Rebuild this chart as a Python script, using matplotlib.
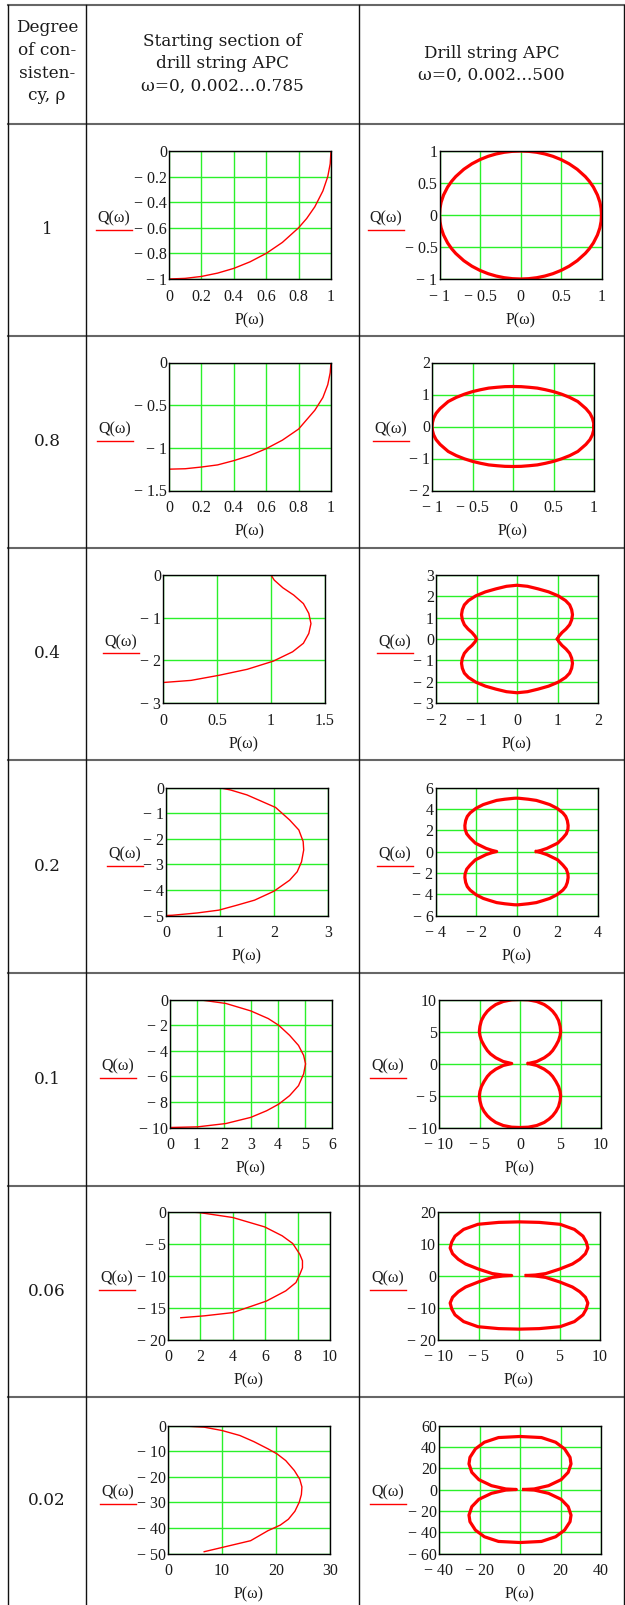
import numpy as np
import matplotlib.pyplot as plt
from matplotlib.lines import Line2D

plt.rcParams['font.family'] = ['Liberation Serif', 'DejaVu Serif']

# ---- data ----
rho_labels = ["1", "0.8", "0.4", "0.2", "0.1", "0.06", "0.02"]

# starting section (left column): P, Q pairs, from Q=0 end towards P=0 end
p_1 = [1.0, 0.995, 0.98, 0.95, 0.9, 0.85, 0.8, 0.7, 0.6, 0.5, 0.4, 0.3, 0.2, 0.1, 0.0]
q_1 = [0.0, -0.1, -0.2, -0.312, -0.436, -0.527, -0.6, -0.714, -0.8, -0.866, -0.917, -0.954, -0.98, -0.995, -1.0]

p_08 = [1.0, 0.995, 0.98, 0.95, 0.9, 0.8, 0.7, 0.6, 0.5, 0.4, 0.3, 0.2, 0.1, 0.0]
q_08 = [0.0, -0.12, -0.26, -0.41, -0.56, -0.78, -0.91, -1.01, -1.09, -1.15, -1.2, -1.225, -1.245, -1.25]

p_04 = [1.0, 1.03, 1.11, 1.21, 1.30, 1.35, 1.37, 1.35, 1.30, 1.2, 1.02, 0.78, 0.52, 0.26, 0.0]
q_04 = [0.0, -0.12, -0.3, -0.47, -0.67, -0.9, -1.14, -1.37, -1.6, -1.8, -2.02, -2.21, -2.35, -2.47, -2.52]

p_02 = [0.98, 1.2, 1.5, 2.03, 2.29, 2.46, 2.54, 2.55, 2.51, 2.43, 2.29, 2.0, 1.64, 1.31, 0.98, 0.58, 0.12, 0.0]
q_02 = [0.0, -0.1, -0.29, -0.78, -1.27, -1.66, -2.11, -2.44, -2.9, -3.29, -3.62, -4.05, -4.4, -4.6, -4.79, -4.9, -4.99, -5.0]

p_01 = [1.02, 2.07, 2.99, 3.64, 4.03, 4.43, 4.76, 4.95, 5.02, 4.95, 4.76, 4.43, 4.03, 3.58, 2.99, 2.07, 1.02, 0.0]
q_01 = [0.0, -0.31, -0.89, -1.49, -2.02, -2.8, -3.59, -4.37, -5.03, -5.81, -6.73, -7.51, -8.17, -8.69, -9.21, -9.69, -9.95, -10.0]

p_006 = [0.72, 1.92, 4.0, 5.96, 7.05, 7.7, 8.14, 8.3, 8.3, 8.14, 7.9, 7.27, 6.07, 4.0, 2.25, 0.79]
q_006 = [0.0, -0.16, -0.94, -2.4, -3.8, -5.0, -6.7, -7.7, -8.8, -9.8, -11.1, -12.4, -14.0, -15.8, -16.3, -16.6]

p_002 = [0.85, 3.5, 6.7, 10.0, 13.3, 15.9, 18.5, 20.2, 21.8, 23.4, 24.4, 24.8, 24.7, 24.3, 23.5, 22.3, 20.8, 18.5, 15.3, 10.7, 6.7]
q_002 = [0.0, -0.26, -0.65, -1.96, -3.9, -6.3, -9.1, -11.1, -13.7, -17.6, -21.0, -24.0, -27.0, -30.0, -33.5, -36.6, -38.9, -41.1, -45.0, -47.3, -49.3]

# full APC (right column): one quarter, mirrored into the closed curve
rp_006 = [0.9, 2.0, 3.3, 5.0, 6.6, 7.5, 8.2, 8.5, 8.3, 7.9, 6.84, 5.07, 2.5, 0.0]
rq_006 = [0.0, -0.15, -0.6, -2.0, -3.6, -5.07, -6.8, -8.6, -10.5, -12.3, -14.4, -16.0, -16.6, -16.76]

rp_002 = [1.8, 7.0, 14.1, 20.3, 23.8, 25.2, 24.7, 22.0, 17.6, 10.6, 0.0]
rq_002 = [0.0, -0.5, -3.6, -9.2, -16.1, -24.0, -30.2, -38.1, -44.3, -48.7, -49.7]

left_data = [(p_1, q_1), (p_08, q_08), (p_04, q_04), (p_02, q_02),
             (p_01, q_01), (p_006, q_006), (p_002, q_002)]
right_data = [(p_1, q_1), (p_08, q_08), (p_04, q_04), (p_02, q_02),
              (p_01, q_01), (rp_006, rq_006), (rp_002, rq_002)]

# axis limits and tick steps
left_x = [(0, 1, 0.2), (0, 1, 0.2), (0, 1.5, 0.5), (0, 3, 1), (0, 6, 1), (0, 10, 2), (0, 30, 10)]
left_y = [(-1, 0, 0.2), (-1.5, 0, 0.5), (-3, 0, 1), (-5, 0, 1), (-10, 0, 2), (-20, 0, 5), (-50, 0, 10)]
right_x = [(-1, 1, 0.5), (-1, 1, 0.5), (-2, 2, 1), (-4, 4, 2), (-10, 10, 5), (-10, 10, 5), (-40, 40, 20)]
right_y = [(-1, 1, 0.5), (-2, 2, 1), (-3, 3, 1), (-6, 6, 2), (-10, 10, 5), (-20, 20, 10), (-60, 60, 20)]

# ---- layout (pixels from top-left) ----
W, H = 625, 1605
row_lines = [124, 336, 548, 760, 972.5, 1185.5, 1396.5]
col_lines = [8, 86, 359, 624]
ax_tops = [151, 362.5, 575, 787.5, 999.5, 1211.5, 1425.5]
left_x0 = [169, 169, 163, 166, 170, 168, 168]
right_x0 = [439.5, 432, 436, 435.5, 439, 438, 439]
left_qx = [114, 115, 121, 125, 118, 117, 118]
right_qx = [386, 391, 395, 395, 388, 388, 388]
AW, AH = 162, 128
FS = 11.5

GREEN = '#2af02a'
RED = '#ff0000'
INK = '#1a1a1a'


def fx(x):
    return x / W


def fy(y):
    return 1 - y / H


def tick_text(v):
    s = f"{abs(v):g}"
    return s if v >= 0 else "\u2212 " + s


def closed_curve(p, q):
    p = np.asarray(p)
    q = np.asarray(q)
    px = np.concatenate([p, -p[::-1], -p, p[::-1]])
    qy = np.concatenate([q, q[::-1], -q, -q[::-1]])
    return px, qy


def make_axes(x0, top, xr, yr, qx):
    ax = fig.add_axes([fx(x0), fy(top + AH), AW / W, AH / H])
    xt = np.arange(xr[0], xr[1] + xr[2] / 2, xr[2])
    yt = np.arange(yr[0], yr[1] + yr[2] / 2, yr[2])
    ax.set_xlim(xr[0], xr[1])
    ax.set_ylim(yr[0], yr[1])
    ax.set_xticks(xt)
    ax.set_yticks(yt)
    ax.set_xticklabels([tick_text(round(v, 3)) for v in xt])
    ax.set_yticklabels([tick_text(round(v, 3)) for v in yt])
    ax.tick_params(length=0, labelsize=FS, colors=INK)
    ax.tick_params(axis='x', pad=7)
    ax.tick_params(axis='y', pad=1.5)
    ax.grid(True, color=GREEN, lw=1.0)
    for sp in ax.spines.values():
        sp.set_color('black')
        sp.set_linewidth(1.0)
    mid = top + AH / 2
    fig.text(fx(qx), fy(mid + 3), "Q(\u03c9)", ha='center', va='center',
             fontsize=FS, color=INK)
    fig.add_artist(Line2D([fx(qx - 18), fx(qx + 18)], [fy(mid + 14.5)] * 2,
                          color=RED, lw=1.0))
    fig.text(fx(x0 + AW / 2), fy(top + AH + 41), "P(\u03c9)", ha='center',
             va='center', fontsize=FS, color=INK)
    return ax


fig = plt.figure(figsize=(6.25, 16.05), dpi=100)

# table grid
for y in [5] + row_lines:
    fig.add_artist(Line2D([fx(col_lines[0]), fx(W)], [fy(y), fy(y)],
                          color='#666666', lw=1.5))
for x in col_lines:
    fig.add_artist(Line2D([fx(x), fx(x)], [fy(5), fy(H)], color='#111111', lw=1.0))

# header
hfont = dict(family='DejaVu Serif', fontsize=12.2, color=INK, ha='center', va='center')
for txt, y in zip(["Degree", "of con-", "sisten-", "cy, \u03c1"], [28, 50.5, 73, 95.5]):
    fig.text(fx(47), fy(y), txt, **hfont)
for txt, y in zip(["Starting section of", "drill string APC", "\u03c9=0, 0.002...0.785"],
                  [41.5, 64, 86.5]):
    fig.text(fx(222.5), fy(y), txt, **hfont)
for txt, y in zip(["Drill string APC", "\u03c9=0, 0.002...500"], [53, 75.5]):
    fig.text(fx(491.5), fy(y), txt, **hfont)

bottoms = row_lines[1:] + [H]
for i in range(7):
    fig.text(fx(47), fy((row_lines[i] + bottoms[i]) / 2), rho_labels[i], **hfont)

    axl = make_axes(left_x0[i], ax_tops[i], left_x[i], left_y[i], left_qx[i])
    pl, ql = left_data[i]
    axl.plot(pl, ql, color=RED, lw=1.0)

    axr = make_axes(right_x0[i], ax_tops[i], right_x[i], right_y[i], right_qx[i])
    pr, qr = closed_curve(*right_data[i])
    axr.plot(pr, qr, color=RED, lw=2.3)

fig.savefig("out.png", dpi=100)
